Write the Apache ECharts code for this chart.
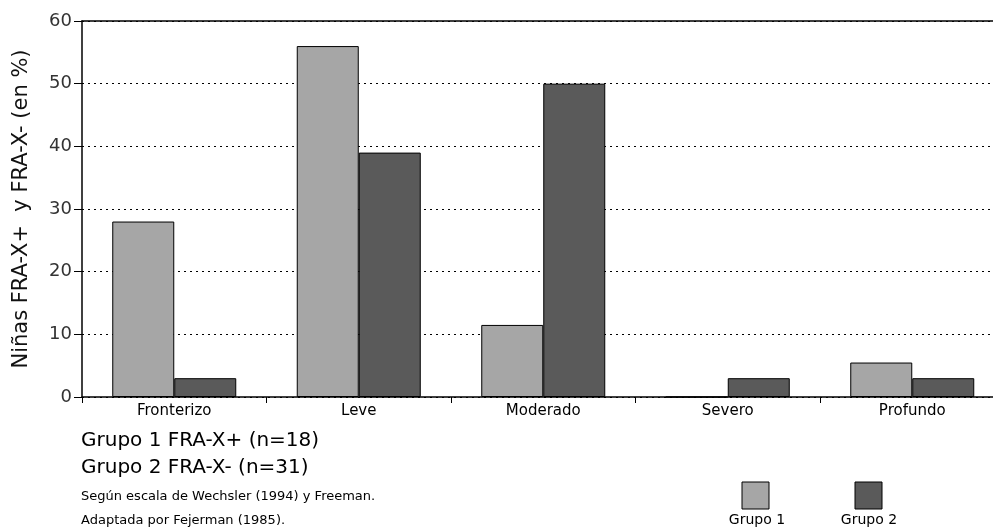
<!DOCTYPE html>
<html><head><meta charset="utf-8">
<script src="https://cdn.jsdelivr.net/npm/echarts@6/dist/echarts.min.js"></script>
<style>html,body{margin:0;padding:0;background:#fff}#c{width:993px;height:529px}</style>
</head><body><div id="c"></div>
<script>
const categories = ['Fronterizo','Leve','Moderado','Severo','Profundo'];
const grupo1 = [28, 56, 11.5, 0, 5.5];
const grupo2 = [3, 39, 50, 3, 3];
const yTicks = [0,10,20,30,40,50,60];
const seriesNames = ['Grupo 1','Grupo 2'];
const notes = ['Grupo 1 FRA-X+ (n=18)','Grupo 2 FRA-X- (n=31)','Según escala de Wechsler (1994) y Freeman.','Adaptada por Fejerman (1985).'];
const FONT = 'DejaVu Sans';
const c1 = '#a6a6a6', c2 = '#5a5a5a';
const chart = echarts.init(document.getElementById('c'));
function txt(s, x, y, size, align){
  return {type:'text', x:x, y:y, style:{text:s, font:size+'px "DejaVu Sans"', fill:'#000', textAlign:align||'left', textVerticalAlign:'middle', verticalAlign:'middle'}};
}
chart.setOption({
  animation:false,
  textStyle:{fontFamily:FONT},
  grid:{left:82, top:21, right:-11.5, bottom:132, containLabel:false, outerBoundsMode:'none'},
  xAxis:[{
    type:'category', data:categories, position:'bottom',
    axisLine:{lineStyle:{color:'#000',width:1.5}},
    axisTick:{show:true,length:6,lineStyle:{color:'#000'}},
    axisLabel:{color:'#000',fontSize:15,margin:7,fontFamily:FONT}
  },{
    type:'category', data:categories, position:'top',
    axisLine:{show:true,lineStyle:{color:'#000',width:1.5}},
    axisTick:{show:false}, axisLabel:{show:false}
  }],
  yAxis:{
    type:'value', min:yTicks[0], max:yTicks[yTicks.length-1], interval:10,
    name:'Niñas FRA-X+  y FRA-X- (en %)', nameLocation:'middle', nameGap:50,
    nameTextStyle:{fontSize:21,color:'#111',fontFamily:FONT},
    axisLine:{show:true,lineStyle:{color:'#000',width:1.5}},
    axisTick:{show:true,length:8,lineStyle:{color:'#000'}},
    axisLabel:{color:'#333',fontSize:18,margin:10,fontFamily:FONT},
    splitLine:{show:true,lineStyle:{color:'#000',type:[2,4],width:1}}
  },
  series:[
    {name:seriesNames[0],type:'bar',data:grupo1,barWidth:62,barGap:'0%',
     itemStyle:{color:c1,borderColor:'#000',borderWidth:1}},
    {name:seriesNames[1],type:'bar',data:grupo2,barWidth:62,barGap:'0%',
     itemStyle:{color:c2,borderColor:'#000',borderWidth:1}}
  ],
  graphic:[
    txt(notes[0],81,441,20),
    txt(notes[1],81,468,20),
    txt(notes[2],81,497,13),
    txt(notes[3],81,521,13),
    {type:'rect',shape:{x:742,y:482,width:27,height:27},style:{fill:c1,stroke:'#000',lineWidth:1}},
    {type:'rect',shape:{x:855,y:482,width:27,height:27},style:{fill:c2,stroke:'#000',lineWidth:1}},
    txt(seriesNames[0],757,520,14,'center'),
    txt(seriesNames[1],869,520,14,'center')
  ]
});
</script></body></html>
